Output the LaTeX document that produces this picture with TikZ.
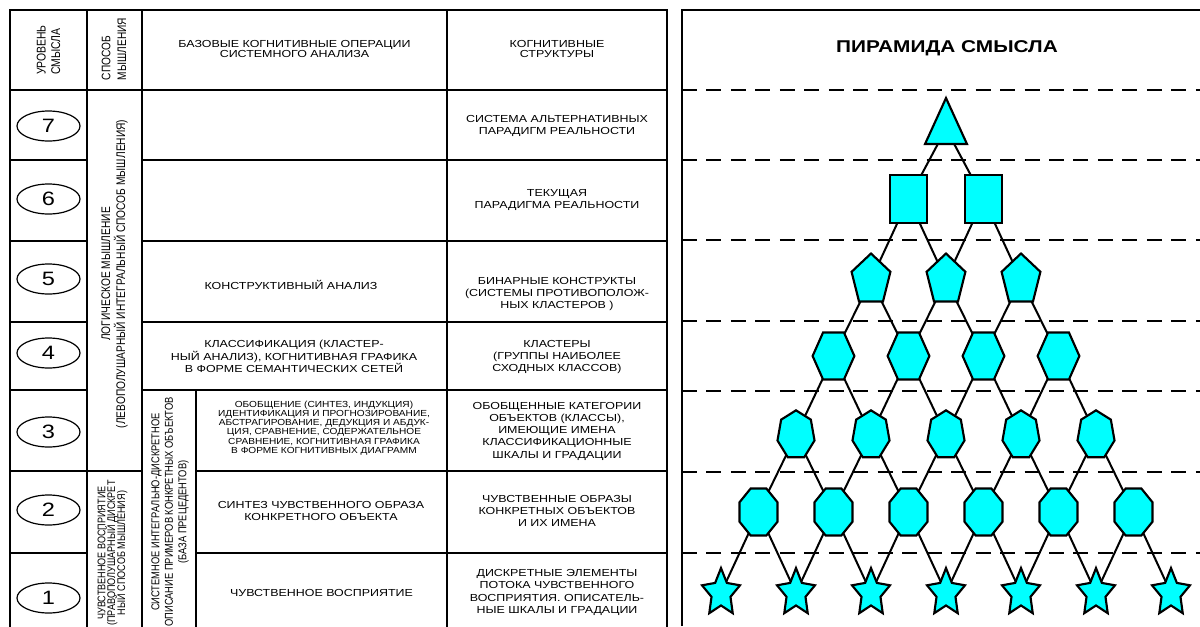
\documentclass[tikz,border=0pt]{standalone}
\usepackage{fontspec}
\setmainfont{Liberation Sans}[FakeStretch=1.22]
\newfontfamily\rotfont{Liberation Sans}
\newfontfamily\narrowfont{Liberation Sans}[FakeStretch=1.15]
\usetikzlibrary{shapes.geometric,shapes.misc,backgrounds}
\definecolor{nodecyan}{RGB}{0,255,255}
\newcommand\fbody{\fontsize{7.65}{9.2}\selectfont}
\newcommand\fhead{\fontsize{7.65}{7.8}\selectfont}
\newcommand\fsmall{\narrowfont\fontsize{6.6}{6.85}\selectfont\lineskiplimit-10pt\relax}
\newcommand\fnum{\fontsize{14.5}{16}\selectfont}
\newcommand\ftitle{\bfseries\fontsize{12.8}{14}\selectfont}
\newcommand\fsens{\rotfont\fontsize{6.8}{6.1}\selectfont\lineskiplimit-10pt\relax}
\begin{document}
\begin{tikzpicture}[x=0.75pt,y=-0.75pt,
  tab/.style={line width=1.35pt,line cap=rect},
  frame/.style={line width=1pt},
  dline/.style={line width=0.9pt,dash pattern=on 11.25pt off 7.1pt},
  txt/.style={align=center,inner sep=0pt,font=\fbody},
  vt/.style={rotate=90,yscale=1.22,inner sep=0pt},
  ell/.style={ellipse,draw,line width=0.9pt,minimum width=47.25pt,minimum height=22.5pt,inner sep=0pt,font=\fnum},
  pnode/.style={draw=black,fill=nodecyan,line width=1.6pt,inner sep=0pt},
  pyr7/.style={pnode,regular polygon,regular polygon sides=3,minimum size=46pt,xscale=0.79},
  pyr6/.style={pnode,rectangle,minimum width=27.75pt,minimum height=36pt},
  pyr5/.style={pnode,regular polygon,regular polygon sides=5,minimum size=39.75pt,xscale=0.77},
  pyr4/.style={pnode,regular polygon,regular polygon sides=6,minimum size=40.7pt,xscale=0.77},
  pyr3/.style={pnode,regular polygon,regular polygon sides=7,minimum size=37pt,xscale=0.77},
  pyr2/.style={pnode,regular polygon,regular polygon sides=8,minimum size=38.1pt,xscale=0.81},
  pyr1/.style={pnode,star,star points=5,star point ratio=2,minimum size=37.4pt,xscale=0.8},
  edge/.style={line width=1.5pt}]
\useasboundingbox (0,0) rectangle (1200,626);

% ---------------- table ----------------
\draw[tab] (10,626) -- (10,10) -- (667,10) -- (667,626);
\draw[tab] (87,10) -- (87,626);
\draw[tab] (142,10) -- (142,626);
\draw[tab] (447,10) -- (447,626);
\draw[tab] (196,390) -- (196,626);
\draw[tab] (10,90) -- (667,90);
\foreach \yy in {160,241,322,390}{
  \draw[tab] (10,\yy) -- (87,\yy) (142,\yy) -- (667,\yy);
}
\draw[tab] (10,471) -- (142,471) (196,471) -- (667,471);
\draw[tab] (10,553) -- (87,553) (196,553) -- (667,553);

% header
\node[vt,font=\rotfont\fontsize{7.8}{8.9}\selectfont,align=left] (hlev) at (48.5,50) {УРОВЕНЬ\\СМЫСЛА};
\node[vt,font=\rotfont\fontsize{7.6}{9.6}\selectfont,align=left] (hway) at (114,49) {СПОСОБ\\МЫШЛЕНИЯ};
\node[txt,font=\fhead] (hops) at (294.5,49) {БАЗОВЫЕ КОГНИТИВНЫЕ ОПЕРАЦИИ\\СИСТЕМНОГО АНАЛИЗА};
\node[txt,font=\fhead] (hstr) at (557,49) {КОГНИТИВНЫЕ\\СТРУКТУРЫ};

% level ellipses
\node[ell] (e7) at (48.5,126) {7};
\node[ell] (e6) at (48.5,199) {6};
\node[ell] (e5) at (48.5,279) {5};
\node[ell] (e4) at (48.5,353) {4};
\node[ell] (e3) at (48.5,432) {3};
\node[ell] (e2) at (48.5,510) {2};
\node[ell] (e1) at (48.5,598) {1};

% ways of thinking
\node[vt,font=\rotfont\fontsize{7.65}{9.2}\selectfont,align=center] (wlog) at (114.5,274)
  {ЛОГИЧЕСКОЕ МЫШЛЕНИЕ\\(ЛЕВОПОЛУШАРНЫЙ ИНТЕГРАЛЬНЫЙ СПОСОБ МЫШЛЕНИЯ)};
\node[vt,font=\fsens,align=center] (wsen) at (112.5,553)
  {ЧУВСТВЕННОЕ ВОСПРИЯТИЕ\\(ПРАВОПОЛУШАРНЫЙ ДИСКРЕТ\\НЫЙ СПОСОБ МЫШЛЕНИЯ)};
\node[vt,font=\rotfont\fontsize{7}{8.3}\selectfont,align=center] (wsys) at (170,512)
  {СИСТЕМНОЕ ИНТЕГРАЛЬНО-ДИСКРЕТНОЕ\\ОПИСАНИЕ ПРИМЕРОВ КОНКРЕТНЫХ ОБЪЕКТОВ\\(БАЗА ПРЕЦЕДЕНТОВ)};

% operations
\node[txt] (o5) at (291,285) {КОНСТРУКТИВНЫЙ АНАЛИЗ};
\node[txt] (o4) at (294,356.5) {КЛАССИФИКАЦИЯ (КЛАСТЕР-\\НЫЙ АНАЛИЗ), КОГНИТИВНАЯ ГРАФИКА\\В ФОРМЕ СЕМАНТИЧЕСКИХ СЕТЕЙ};
\node[txt,font=\fsmall] (o3) at (324,428) {ОБОБЩЕНИЕ (СИНТЕЗ, ИНДУКЦИЯ)\\ИДЕНТИФИКАЦИЯ И ПРОГНОЗИРОВАНИЕ,\\АБСТРАГИРОВАНИЕ, ДЕДУКЦИЯ И АБДУК-\\ЦИЯ, СРАВНЕНИЕ, СОДЕРЖАТЕЛЬНОЕ\\СРАВНЕНИЕ, КОГНИТИВНАЯ ГРАФИКА\\В ФОРМЕ КОГНИТИВНЫХ ДИАГРАММ};
\node[txt] (o2) at (321,511) {СИНТЕЗ ЧУВСТВЕННОГО ОБРАЗА\\КОНКРЕТНОГО ОБЪЕКТА};
\node[txt] (o1) at (321.5,593) {ЧУВСТВЕННОЕ ВОСПРИЯТИЕ};

% structures
\node[txt] (s7) at (557,126) {СИСТЕМА АЛЬТЕРНАТИВНЫХ\\ПАРАДИГМ РЕАЛЬНОСТИ};
\node[txt] (s6) at (557,200) {ТЕКУЩАЯ\\ПАРАДИГМА РЕАЛЬНОСТИ};
\node[txt] (s5) at (557,294) {БИНАРНЫЕ КОНСТРУКТЫ\\(СИСТЕМЫ ПРОТИВОПОЛОЖ-\\НЫХ КЛАСТЕРОВ )};
\node[txt] (s4) at (557,357) {КЛАСТЕРЫ\\(ГРУППЫ НАИБОЛЕЕ\\СХОДНЫХ КЛАССОВ)};
\node[txt] (s3) at (557,431) {ОБОБЩЕННЫЕ КАТЕГОРИИ\\ОБЪЕКТОВ (КЛАССЫ),\\ИМЕЮЩИЕ ИМЕНА\\КЛАССИФИКАЦИОННЫЕ\\ШКАЛЫ И ГРАДАЦИИ};
\node[txt] (s2) at (557,511) {ЧУВСТВЕННЫЕ ОБРАЗЫ\\КОНКРЕТНЫХ ОБЪЕКТОВ\\И ИХ ИМЕНА};
\node[txt] (s1) at (557,592.5) {ДИСКРЕТНЫЕ ЭЛЕМЕНТЫ\\ПОТОКА ЧУВСТВЕННОГО\\ВОСПРИЯТИЯ. ОПИСАТЕЛЬ-\\НЫЕ ШКАЛЫ И ГРАДАЦИИ};

% ---------------- pyramid ----------------
\draw[frame] (682,626) -- (682,10) -- (1200,10);
\node[font=\ftitle,inner sep=0pt] (title) at (947,48) {ПИРАМИДА СМЫСЛА};
\foreach \yy in {90,160,240,321,391,472,553}{
  \draw[dline] (682,\yy) -- (1200,\yy);
}

\foreach \r/\yy in {7/128.7,6/199,5/280,4/356,3/435,2/512,1/593}{
  \pgfmathtruncatemacro\k{8-\r}
  \foreach \i in {1,...,\k}{
    \node[pyr\r] (p\r\i) at ({946+75*(\i-(\k+1)/2)},\yy) {};
  }
}
\begin{pgfonlayer}{background}
\foreach \r in {7,6,5,4,3,2}{
  \pgfmathtruncatemacro\k{8-\r}
  \pgfmathtruncatemacro\rr{\r-1}
  \foreach \i in {1,...,\k}{
    \pgfmathtruncatemacro\j{\i+1}
    \draw[edge] (p\r\i.center) -- (p\rr\i.center) (p\r\i.center) -- (p\rr\j.center);
  }
}
\end{pgfonlayer}
\end{tikzpicture}
\end{document}
